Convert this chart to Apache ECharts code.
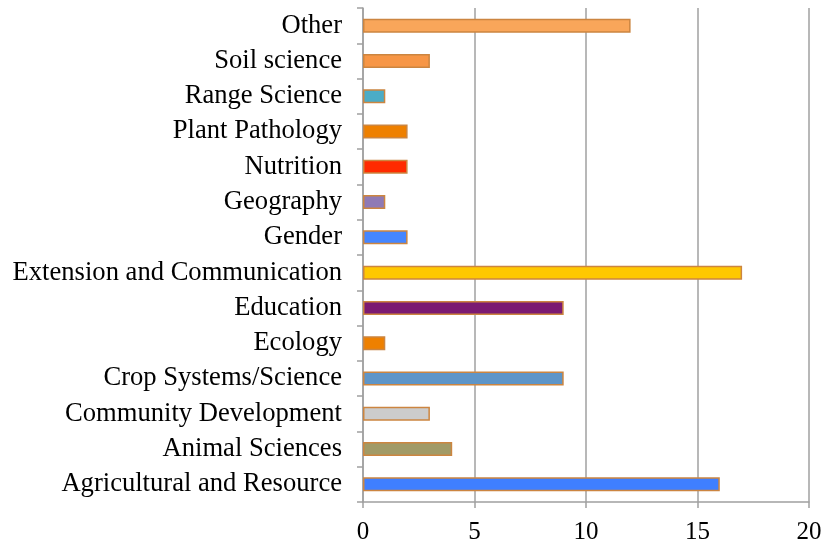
<!DOCTYPE html>
<html>
<head>
<meta charset="utf-8">
<script src="https://cdn.jsdelivr.net/npm/echarts@6/dist/echarts.min.js"></script>
<style>html,body{margin:0;padding:0;background:#fff;}#c{width:825px;height:546px;}</style>
</head>
<body>
<div id="c"></div>
<script>
// bottom-to-top order
const categories = ["Agricultural and Resource","Animal Sciences","Community Development","Crop Systems/Science","Ecology","Education","Extension and Communication","Gender","Geography","Nutrition","Plant Pathology","Range Science","Soil science","Other"];
const values = [16, 4, 3, 9, 1, 9, 17, 2, 1, 2, 2, 1, 3, 12];
const barColors = ["#3F7FFF","#A19A66","#CCCCCC","#5E95C8","#EE8000","#7B1A72","#FFC800","#4586FF","#8F7AB5","#FF2A00","#EE8000","#4BACC6","#F79646","#F9A65A"];
const xTicks = [0, 5, 10, 15, 20];

const chart = echarts.init(document.getElementById('c'));
chart.setOption({
  animation: false,
  grid: { left: 363, top: 8, right: 16, bottom: 44, containLabel: false },
  xAxis: {
    type: 'value', min: xTicks[0], max: xTicks[xTicks.length-1], interval: 5,
    axisLine: { show: true, lineStyle: { color: '#A0A0A0', width: 1.5 } },
    axisTick: { show: true, length: 6, lineStyle: { color: '#A0A0A0', width: 1.5 } },
    splitLine: { show: true, lineStyle: { color: '#A0A0A0', width: 1.5 } },
    axisLabel: { color: '#000', fontFamily: 'Liberation Serif', fontSize: 25, margin: 18 }
  },
  yAxis: {
    type: 'category', data: categories,
    axisLine: { show: true, lineStyle: { color: '#A0A0A0', width: 1.5 } },
    axisTick: { show: true, length: 6, lineStyle: { color: '#A0A0A0', width: 1.5 } },
    axisLabel: { color: '#000', fontFamily: 'Liberation Serif', fontSize: 26.6, margin: 21, padding: [3, 0, 0, 0] }
  },
  series: [{
    type: 'bar', barWidth: 14,
    data: values.map((v, i) => ({ value: v, itemStyle: { color: barColors[i] } })),
    itemStyle: { borderColor: '#CC8540', borderWidth: 1.5 }
  }]
});
</script>
</body>
</html>
